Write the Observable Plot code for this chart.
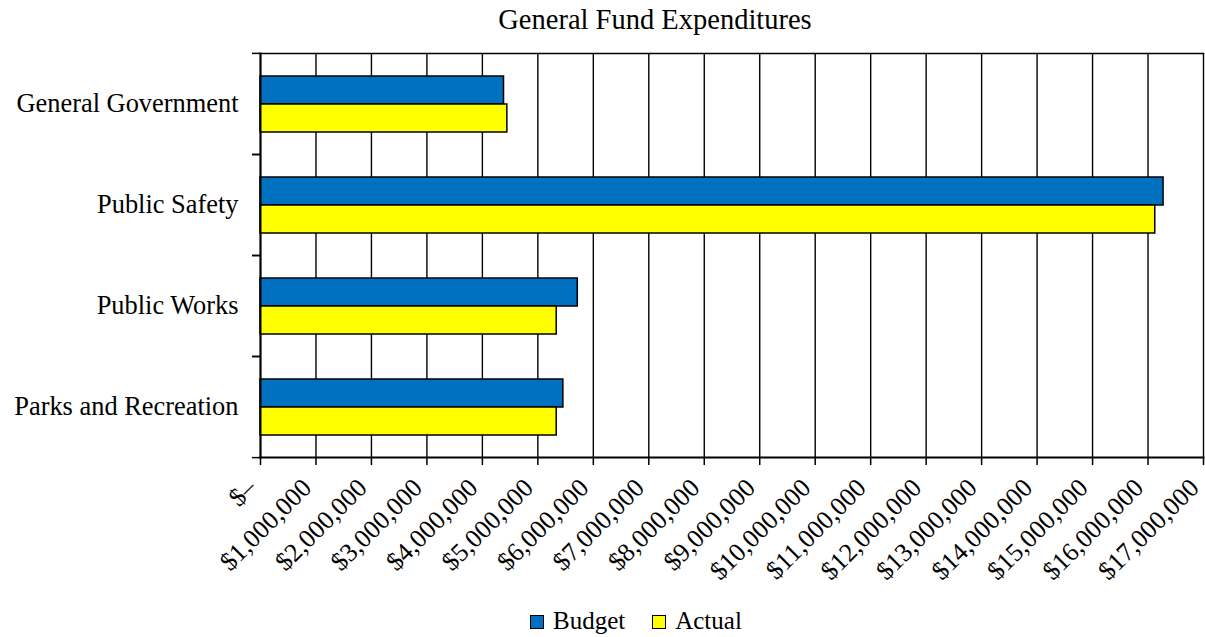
<!DOCTYPE html>
<html>
<head>
<meta charset="utf-8">
<script src="https://cdn.jsdelivr.net/npm/d3@7"></script>
<script src="https://cdn.jsdelivr.net/npm/@observablehq/plot@0.6"></script>
<style>
  html, body { margin: 0; padding: 0; background: #fff; overflow: hidden; }
  #wrap { position: relative; width: 1205px; height: 637px; font-family: "Liberation Serif", "Times New Roman", serif; color: #000; }
  #title { position: absolute; top: 6px; left: 655px; transform: translateX(-50%); font-size: 28.5px; line-height: 28px; white-space: nowrap; }
  #legend { position: absolute; top: 608px; left: 530px; font-size: 25px; line-height: 25px; white-space: nowrap; }
  .sw { display: inline-block; width: 12px; height: 12px; border: 1px solid #000; vertical-align: baseline; margin-right: 9px; }
  .item { display: inline-block; margin-right: 27px; }
  #chart { position: absolute; top: 0; left: 0; }
</style>
</head>
<body>
<div id="wrap">
  <div id="chart"></div>
  <div id="title"></div>
  <div id="legend"></div>
</div>
<script>
const chartTitle = "General Fund Expenditures";
const categories = ["General Government", "Public Safety", "Public Works", "Parks and Recreation"];
const seriesNames = ["Budget", "Actual"];
const seriesColors = ["#0070C0", "#FFFF00"];
const budget = [4390000, 16280000, 5720000, 5460000];
const actual = [4450000, 16130000, 5340000, 5340000];
const tickValues = [0, 1000000, 2000000, 3000000, 4000000, 5000000, 6000000, 7000000, 8000000, 9000000,
  10000000, 11000000, 12000000, 13000000, 14000000, 15000000, 16000000, 17000000];
const tickLabels = ["$–", "$1,000,000", "$2,000,000", "$3,000,000", "$4,000,000", "$5,000,000", "$6,000,000",
  "$7,000,000", "$8,000,000", "$9,000,000", "$10,000,000", "$11,000,000", "$12,000,000", "$13,000,000",
  "$14,000,000", "$15,000,000", "$16,000,000", "$17,000,000"];

const rows = [];
categories.forEach((c, i) => {
  rows.push({category: c, series: seriesNames[0], value: budget[i]});
  rows.push({category: c, series: seriesNames[1], value: actual[i]});
});

const facetStep = (457 - 52) / categories.length;
const serif = "'Liberation Serif', 'Times New Roman', serif";

const chart = Plot.plot({
  width: 1205,
  height: 595,
  marginTop: 52,
  marginBottom: 138,
  marginLeft: 260,
  marginRight: 2,
  style: {fontFamily: serif, fontSize: "25px", color: "#000", background: "transparent"},
  x: {domain: [0, 17000000], axis: null},
  y: {domain: seriesNames, axis: null, paddingInner: 0, paddingOuter: 0.746},
  fy: {domain: categories, axis: null, padding: 0},
  color: {domain: seriesNames, range: seriesColors},
  marks: [
    Plot.ruleX(tickValues, {stroke: "#000", strokeWidth: 1.4}),
    Plot.barX(rows, {x: "value", y: "series", fy: "category", fill: "series", stroke: "#000", strokeWidth: 1.5}),
    Plot.frame({anchor: "top", facet: "super", stroke: "#000", strokeWidth: 1.5}),
    Plot.frame({anchor: "bottom", facet: "super", stroke: "#000", strokeWidth: 2}),
    Plot.frame({anchor: "left", facet: "super", stroke: "#000", strokeWidth: 2}),
    Plot.axisFy({anchor: "left", tickSize: 0, tickPadding: 22, fontSize: 26.4, fontFamily: serif, label: null}),
    Plot.axisFy({anchor: "left", tickSize: 8, tickFormat: () => "", dy: -facetStep / 2, label: null, strokeWidth: 1.5}),
    Plot.axisFy({anchor: "left", tickSize: 8, tickFormat: () => "", dy: facetStep / 2, label: null, strokeWidth: 1.5}),
    Plot.axisX({anchor: "bottom", ticks: tickValues, tickFormat: () => "", tickSize: 8, label: null, strokeWidth: 1.5}),
    Plot.axisX({anchor: "bottom", ticks: tickValues, tickFormat: d => tickLabels[tickValues.indexOf(d)],
      tickRotate: -45, tickSize: 0, tickPadding: 26, fontSize: 26, fontFamily: serif, label: null, dx: -9})
  ]
});
document.getElementById("chart").appendChild(chart);
document.getElementById("title").textContent = chartTitle;

const legend = document.getElementById("legend");
seriesNames.forEach((s, i) => {
  const item = document.createElement("span");
  item.className = "item";
  const sw = document.createElement("span");
  sw.className = "sw";
  sw.style.background = seriesColors[i];
  item.appendChild(sw);
  item.appendChild(document.createTextNode(s));
  legend.appendChild(item);
});
</script>
</body>
</html>
